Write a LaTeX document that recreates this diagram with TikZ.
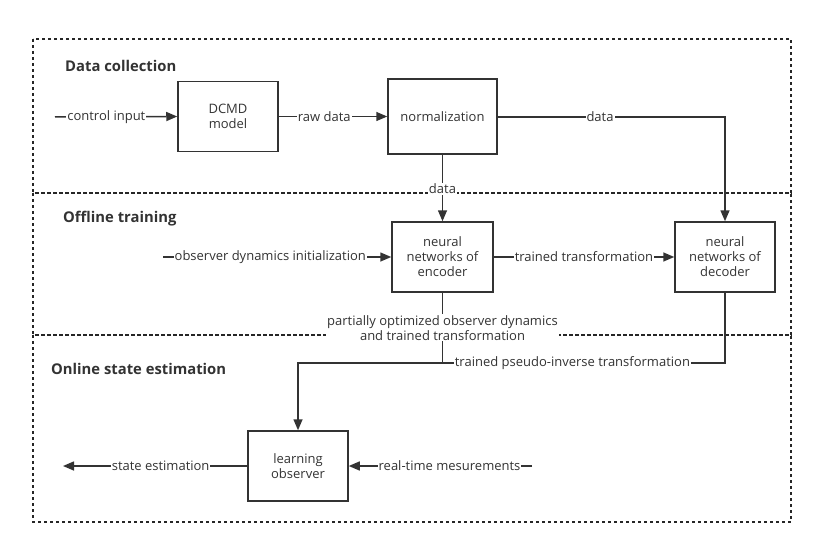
\documentclass[tikz,border=0pt]{standalone}
\usepackage{fontspec}
\setmainfont{Open Sans}
\usetikzlibrary{arrows.meta}
\definecolor{ink}{HTML}{333333}
\newcommand{\lblfont}{\fontsize{13pt}{15pt}\selectfont}
\newcommand{\headfont}{\fontsize{14.8pt}{17pt}\selectfont\bfseries}
\tikzset{
  blk/.style={draw=ink, line width=1.5pt, minimum width=100pt, minimum height=70pt, align=center, font=\lblfont, text=ink, inner sep=0pt},
  conn/.style={draw=ink, line width=1.5pt},
  arr/.style={conn, -{Triangle[length=11pt,width=9pt]}},
  lab/.style={fill=white, inner sep=1pt, font=\lblfont, text=ink, align=center},
  region/.style={draw=black!85, line width=1.3pt, dash pattern=on 3pt off 3pt},
  head/.style={anchor=west, font=\headfont, text=ink, inner sep=0pt}
}
\begin{document}
\begin{tikzpicture}[x=1pt,y=-1pt]
\useasboundingbox (0,0) rectangle (816,548);
% regions
\draw[region] (33,39) rectangle (791,193);
\draw[region] (33,193) rectangle (791,335);
\draw[region] (33,335) rectangle (791,522);
\node[head] (h1) at (65,66) {Data collection};
\node[head] (h2) at (63,219) {Offline training};
\node[head] (h3) at (51,369) {Online state estimation};
% blocks
\node[blk] (dcmd) at (228,116.5) {DCMD\\model};
\node[blk, minimum width=109pt, minimum height=75pt] (norm) at (442.5,116.5) {normalization};
\node[blk, minimum width=101pt] (enc) at (442.5,257) {neural\\networks of\\encoder};
\node[blk] (dec) at (725,257) {neural\\networks of\\decoder};
\node[blk] (obs) at (298,466) {learning\\observer};
% free ends
\coordinate (ci) at (55,117);
\coordinate (oi) at (163,257);
\coordinate (se) at (63,466);
\coordinate (rt) at (532,466);
\coordinate (dc) at (725,117);
\coordinate (j) at (442.5,363);
\coordinate (k) at (298,363);
% connectors
\draw[arr] (ci) -- node[lab, pos=0.42] {control input} (dcmd.west);
\draw[arr] (dcmd.east) -- node[lab, pos=0.42] {raw data} (norm.west |- dcmd.east);
\draw[arr] (norm.east |- dc) -- node[lab, pos=0.45] {data} (dc) -- (dec.north);
\draw[arr] (norm.south) -- node[lab, pos=0.51] {data} (enc.north);
\draw[arr] (oi) -- node[lab, pos=0.47] {observer dynamics initialization} (enc.west);
\draw[arr] (enc.east) -- node[lab] {trained transformation} (dec.west);
\draw[arr] (enc.south) -- node[lab, pos=0.5] {partially optimized observer dynamics\\and trained transformation} (j) -- (k) -- (obs.north);
\draw[conn] (dec.south) |- node[lab, pos=0.77] {trained pseudo-inverse transformation} (j);
\draw[arr] (obs.west) -- node[lab, pos=0.47] {state estimation} (se);
\draw[arr] (rt) -- node[lab, pos=0.45] {real-time mesurements} (obs.east);
\end{tikzpicture}
\end{document}
